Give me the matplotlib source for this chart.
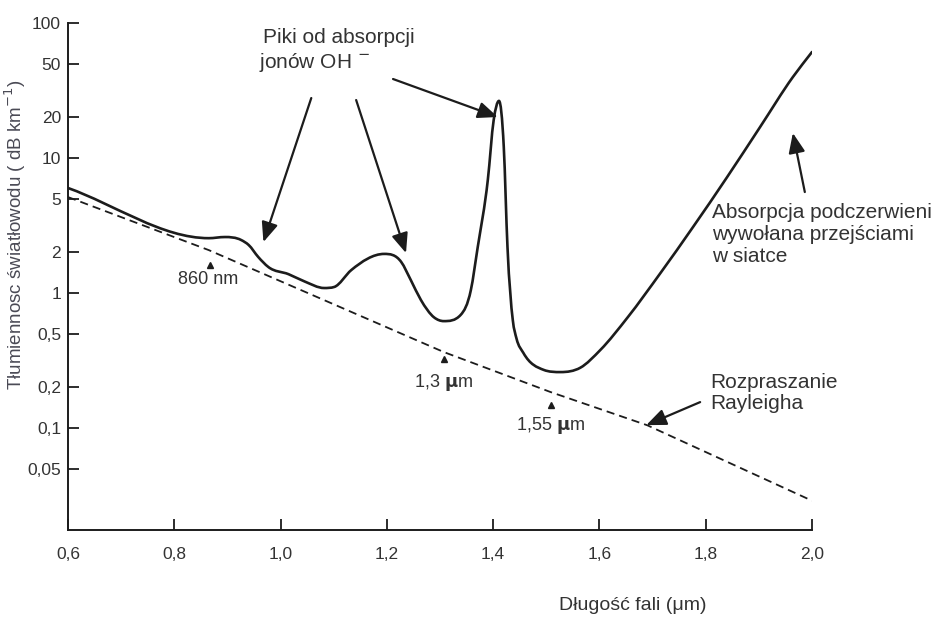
import numpy as np
import matplotlib
matplotlib.use("Agg")
import matplotlib.pyplot as plt
from matplotlib.path import Path
from matplotlib.patches import PathPatch

plt.rcParams['font.family'] = ['Liberation Sans', 'DejaVu Sans']
plt.rcParams['mathtext.fontset'] = 'dejavusans'

# ---- data ----
wavelength_um = [0.600, 0.865, 0.895, 0.926, 0.940, 0.958, 0.977, 1.015, 1.045, 1.082,
                 1.101, 1.133, 1.195, 1.227, 1.245, 1.264, 1.289, 1.307, 1.339, 1.358,
                 1.371, 1.390, 1.401, 1.411, 1.420, 1.427, 1.437, 1.444, 1.457, 1.495,
                 1.527, 1.564, 1.602, 1.653, 1.715, 1.776, 1.840, 1.902, 1.964, 2.000]
attenuation_db_km = [6.0, 2.55, 2.6, 2.47, 2.27, 1.85, 1.56, 1.38, 1.22, 1.09,
                     1.11, 1.48, 1.95, 1.70, 1.25, 0.89, 0.66, 0.62, 0.69, 1.05,
                     2.19, 6.9, 19.1, 26.5, 12.1, 2.19, 0.63, 0.46, 0.36, 0.27,
                     0.26, 0.28, 0.38, 0.66, 1.41, 3.08, 7.2, 16.9, 39.8, 61.0]

rayleigh_um = [0.600, 0.865, 1.039, 1.307, 1.508, 1.690, 2.000]
rayleigh_db_km = [5.14, 2.08, 1.05, 0.366, 0.185, 0.105, 0.029]

marker_um = [0.868, 1.307, 1.508]
marker_db_km = [1.61, 0.324, 0.148]
marker_numbers = ['860', '1,3', '1,55']
marker_units = ['nm', 'μm', 'μm']

xtick_values = [0.6, 0.8, 1.0, 1.2, 1.4, 1.6, 1.8, 2.0]
xtick_labels = ['0,6', '0,8', '1,0', '1,2', '1,4', '1,6', '1,8', '2,0']
ytick_values = [100, 50, 20, 10, 5, 2, 1, 0.5, 0.2, 0.1, 0.05]
ytick_labels = ['100', '50', '20', '10', '5', '2', '1', '0,5', '0,2', '0,1', '0,05']

INK = '#1c1c1c'
TXT = '#333333'

W, H = 941, 625
fig = plt.figure(figsize=(W / 100, H / 100), dpi=100)
fig.patch.set_facecolor('white')
ax_l, ax_r, ax_t, ax_b = 68, 812, 23, 530
ax = fig.add_axes([ax_l / W, 1 - ax_b / H, (ax_r - ax_l) / W, (ax_b - ax_t) / H])
ax.set_yscale('log')
ax.set_xlim(0.6, 2.0)
ax.set_ylim(0.0176, 100)


def smooth_path(x, y):
    """Smooth curve through the points (cubic Hermite in x / log y, drawn as Bezier)."""
    x = np.asarray(x, float)
    ly = np.log10(np.asarray(y, float))
    n = len(x)
    h = np.diff(x)
    d = np.diff(ly) / h
    m = np.zeros(n)
    m[0], m[-1] = d[0], d[-1]
    for i in range(1, n - 1):
        if d[i - 1] * d[i] <= 0:
            m[i] = 0.0
        else:
            m[i] = (d[i - 1] * h[i] + d[i] * h[i - 1]) / (h[i - 1] + h[i])
    # Fritsch-Carlson limiter to avoid overshoot
    for i in range(n - 1):
        if d[i] == 0:
            m[i] = m[i + 1] = 0
            continue
        a, b = m[i] / d[i], m[i + 1] / d[i]
        s = a * a + b * b
        if s > 9:
            t = 3 / np.sqrt(s)
            m[i], m[i + 1] = t * a * d[i], t * b * d[i]
    verts = [(x[0], 10 ** ly[0])]
    codes = [Path.MOVETO]
    for i in range(n - 1):
        verts.append((x[i] + h[i] / 3, 10 ** (ly[i] + m[i] * h[i] / 3)))
        verts.append((x[i + 1] - h[i] / 3, 10 ** (ly[i + 1] - m[i + 1] * h[i] / 3)))
        verts.append((x[i + 1], 10 ** ly[i + 1]))
        codes += [Path.CURVE4] * 3
    return Path(verts, codes)


ax.add_patch(PathPatch(smooth_path(wavelength_um, attenuation_db_km), fill=False,
                       edgecolor=INK, lw=1.9, capstyle='round', joinstyle='round'))
ax.plot(rayleigh_um, rayleigh_db_km, color=INK, lw=1.3, ls=(0, (4.5, 2.8)))
ax.plot(marker_um, marker_db_km, ls='none', marker='^', ms=4.5, color=INK)

# axes styling
for s in ['top', 'right']:
    ax.spines[s].set_visible(False)
for s in ['left', 'bottom']:
    ax.spines[s].set_linewidth(1.4)
    ax.spines[s].set_color(INK)
ax.set_xticks(xtick_values)
ax.set_xticklabels(xtick_labels)
ax.set_yticks(ytick_values)
ax.set_yticklabels(ytick_labels)
ax.yaxis.set_minor_locator(matplotlib.ticker.NullLocator())
ax.tick_params(axis='both', direction='in', length=8, width=1.3, color=INK,
               labelcolor=TXT, labelsize=12.5)
ax.tick_params(axis='y', pad=5)
ax.tick_params(axis='x', pad=12)


def p2d(px, py):
    """reference pixel position -> data coordinates (for annotation placement)"""
    return 0.6 + (px - 66) / 533.0, 10 ** ((293 - py) / 135.0)


fs = 15
# marker labels
for (px, py), num, unit in zip([(207, 279), (443, 382), (550, 425)],
                               marker_numbers, marker_units):
    if unit == 'μm':
        lab = num + r' $\mathbf{\mu}$m'
    else:
        lab = num + ' ' + unit
    ax.text(*p2d(px, py), lab, ha='center', va='center', fontsize=13, color=TXT)

# OH peaks annotation
ax.text(*p2d(262, 37), 'Piki od absorpcji', ha='left', va='center', fontsize=fs, color=TXT)
ax.text(*p2d(258, 62), 'jonów OH $^{-}$', ha='left', va='center', fontsize=fs, color=TXT)

arrow = dict(arrowstyle='-|>,head_length=0.6,head_width=0.25', color=INK, lw=1.6,
             mutation_scale=20, shrinkA=0, shrinkB=0)
for start, tip in [((310, 98), (262, 242)), ((355, 100), (405, 253)),
                   ((392, 79), (497, 117)), ((805, 192), (793, 133)),
                   ((700, 402), (646, 425))]:
    ax.annotate('', xy=p2d(*tip), xytext=p2d(*start), arrowprops=arrow)

ax.text(*p2d(712, 203), 'Absorpcja podczerwieni\nwywołana przejściami\nw siatce',
        ha='left', va='top', fontsize=fs, color=TXT, linespacing=1.2)
ax.text(*p2d(710, 373), 'Rozpraszanie\nRayleigha', ha='left', va='top',
        fontsize=fs, color=TXT, linespacing=1.1)

fig.text(633 / W, 1 - 605 / H, 'Długość fali (μm)', ha='center', va='center',
         fontsize=14, color=TXT)
fig.text(15 / W, 1 - 235 / H, 'Tłumiennosc światłowodu ( dB km$^{-1}$)', rotation=90,
         ha='center', va='center', fontsize=13.5, color='#4a4a55')

fig.savefig('out.png', dpi=100, facecolor='white')
